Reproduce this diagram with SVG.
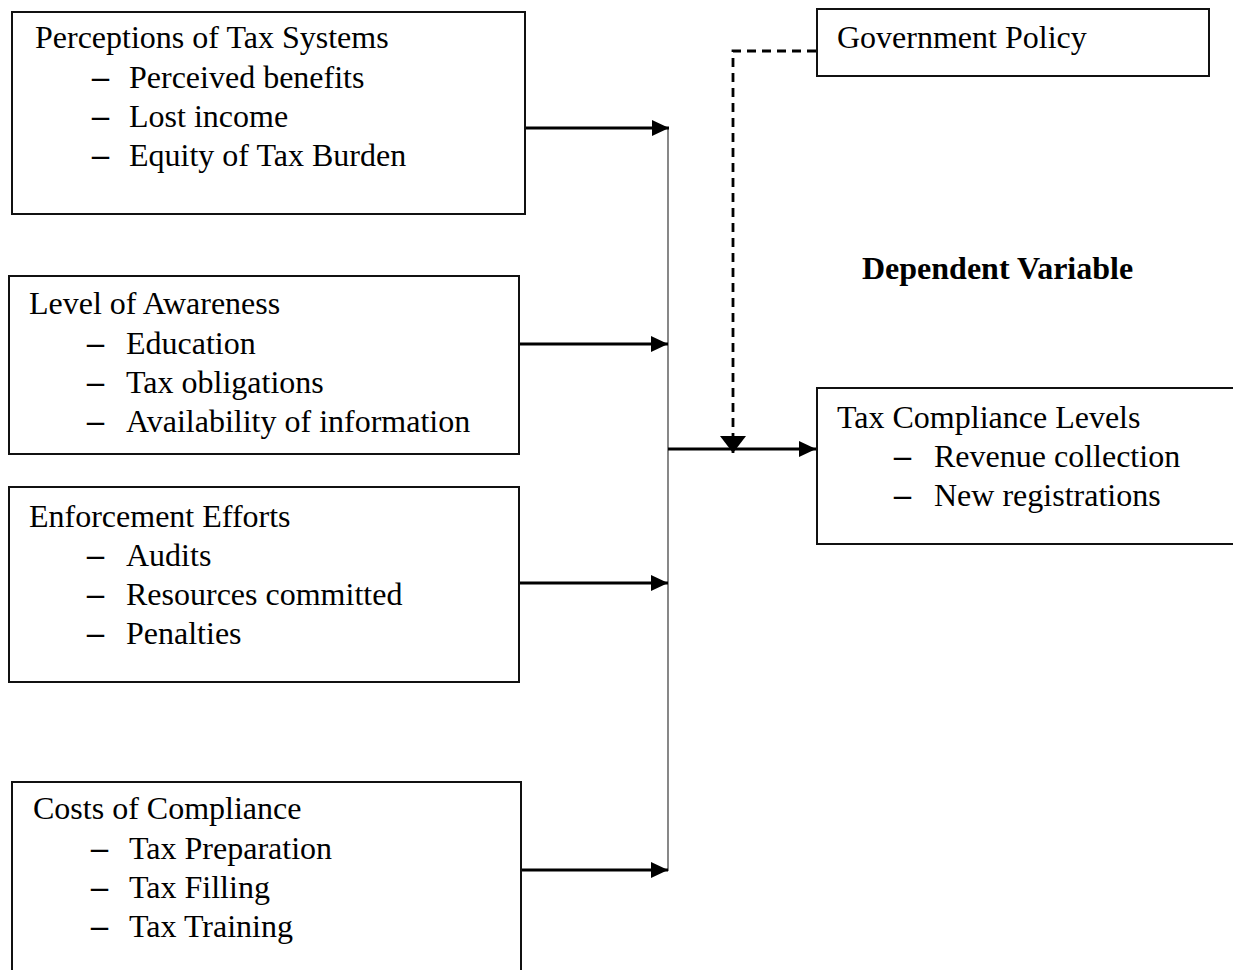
<svg xmlns="http://www.w3.org/2000/svg" width="1233" height="970" viewBox="0 0 1233 970">
<style>
.box{fill:#fff;stroke:#111;stroke-width:2}
.t{font-family:"Liberation Serif","Times New Roman",serif;font-size:32px;fill:#000}
.d{font-family:"Liberation Serif","Times New Roman",serif;font-size:34px;font-weight:bold;fill:#000}
.b{font-weight:bold}
.ln{stroke:#000;stroke-width:2.8;fill:none}
.thin{stroke:#555;stroke-width:1.4;fill:none}
.dash{stroke:#000;stroke-width:2.8;fill:none;stroke-dasharray:9,6}
</style>
<defs>
<marker id="ahr" markerWidth="17" markerHeight="16" refX="17" refY="8" orient="auto" markerUnits="userSpaceOnUse">
<path d="M0,0 L17,8 L0,16 z" fill="#000"/>
</marker>
<marker id="ahd" markerWidth="17" markerHeight="26" refX="17" refY="13" orient="auto" markerUnits="userSpaceOnUse">
<path d="M0,0 L17,13 L0,26 z" fill="#000"/>
</marker>
</defs>
<g id="connectors">
<line class="thin" x1="668" y1="128" x2="668" y2="871"/>
<line class="ln" x1="525" y1="128" x2="669" y2="128" marker-end="url(#ahr)"/>
<line class="ln" x1="519" y1="344" x2="668" y2="344" marker-end="url(#ahr)"/>
<line class="ln" x1="519" y1="583" x2="668" y2="583" marker-end="url(#ahr)"/>
<line class="ln" x1="519" y1="870" x2="668" y2="870" marker-end="url(#ahr)"/>
<line class="ln" x1="668" y1="449" x2="816" y2="449" marker-end="url(#ahr)"/>
<polyline class="dash" points="816,51 733,51 733,453" marker-end="url(#ahd)"/>
</g>
<g id="perceptions">
<rect class="box" x="12" y="12" width="513" height="202"/>
<text class="t" x="35" y="48">Perceptions of Tax Systems</text>
<text class="d" x="92" y="88">–</text><text class="t" x="129" y="88">Perceived benefits</text>
<text class="d" x="92" y="127">–</text><text class="t" x="129" y="127">Lost income</text>
<text class="d" x="92" y="166">–</text><text class="t" x="129" y="166">Equity of Tax Burden</text>
</g>
<g id="awareness">
<rect class="box" x="9" y="276" width="510" height="178"/>
<text class="t" x="29" y="314">Level of Awareness</text>
<text class="d" x="87" y="354">–</text><text class="t" x="126" y="354">Education</text>
<text class="d" x="87" y="393">–</text><text class="t" x="126" y="393">Tax obligations</text>
<text class="d" x="87" y="432">–</text><text class="t" x="126" y="432">Availability of information</text>
</g>
<g id="enforcement">
<rect class="box" x="9" y="487" width="510" height="195"/>
<text class="t" x="29" y="527">Enforcement Efforts</text>
<text class="d" x="87" y="566">–</text><text class="t" x="126" y="566">Audits</text>
<text class="d" x="87" y="605">–</text><text class="t" x="126" y="605">Resources committed</text>
<text class="d" x="87" y="644">–</text><text class="t" x="126" y="644">Penalties</text>
</g>
<g id="costs">
<rect class="box" x="12" y="782" width="509" height="200"/>
<text class="t" x="33" y="819">Costs of Compliance</text>
<text class="d" x="91" y="859">–</text><text class="t" x="129" y="859">Tax Preparation</text>
<text class="d" x="91" y="898">–</text><text class="t" x="129" y="898">Tax Filling</text>
<text class="d" x="91" y="937">–</text><text class="t" x="129" y="937">Tax Training</text>
</g>
<g id="government">
<rect class="box" x="817" y="9" width="392" height="67"/>
<text class="t" x="837" y="48">Government Policy</text>
</g>
<g id="dependent-label">
<text class="t b" x="862" y="279">Dependent Variable</text>
</g>
<g id="compliance">
<rect class="box" x="817" y="388" width="430" height="156"/>
<text class="t" x="837" y="428">Tax Compliance Levels</text>
<text class="d" x="894" y="467">–</text><text class="t" x="934" y="467">Revenue collection</text>
<text class="d" x="894" y="506">–</text><text class="t" x="934" y="506">New registrations</text>
</g>
</svg>
